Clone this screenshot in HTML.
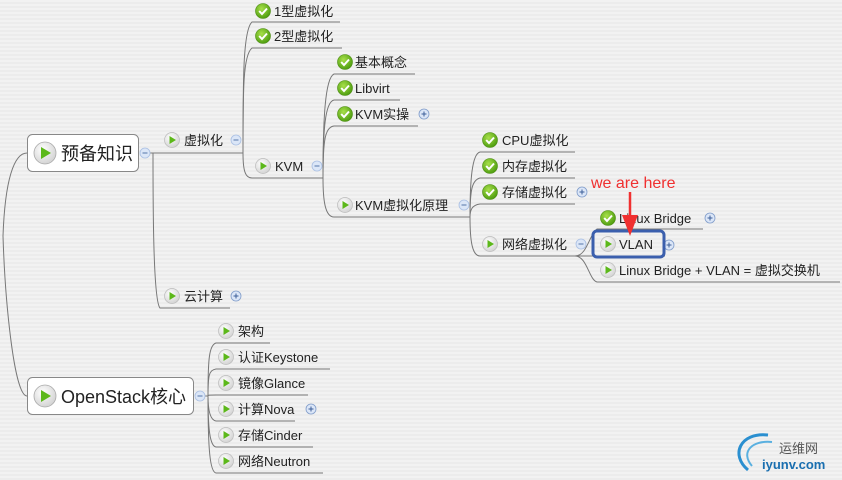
<!DOCTYPE html>
<html><head><meta charset="utf-8"><style>
html,body{margin:0;padding:0;width:842px;height:480px;overflow:hidden;background:#efefef;}
svg{display:block}
text{font-family:"Liberation Sans","Noto Sans CJK SC",sans-serif;fill:#222;}
</style></head><body>
<svg width="842" height="480" viewBox="0 0 842 480" xmlns="http://www.w3.org/2000/svg">
<defs>
<pattern id="st" width="4" height="4" patternUnits="userSpaceOnUse"><rect width="4" height="2" fill="#f2f2f2"/><rect y="2" width="4" height="2" fill="#ececec"/></pattern>
<radialGradient id="gc" cx="40%" cy="35%" r="65%"><stop offset="0" stop-color="#a8e04a"/><stop offset="1" stop-color="#4f9e10"/></radialGradient>
<radialGradient id="gp" cx="40%" cy="35%" r="65%"><stop offset="0" stop-color="#ffffff"/><stop offset="1" stop-color="#d4d4d4"/></radialGradient>
<g id="chk"><circle r="7.5" fill="url(#gc)" stroke="#4a8a10" stroke-width="0.6"/><path d="M-3.8,0 L-1,3 L4,-2.5" fill="none" stroke="#fff" stroke-width="2"/></g>
<g id="ply"><circle r="7.5" fill="url(#gp)" stroke="#bbb" stroke-width="0.7"/><path d="M-2.5,-4 L4,0 L-2.5,4Z" fill="#5cb81a"/></g>
<g id="bply"><circle r="11" fill="url(#gp)" stroke="#aaa" stroke-width="0.8"/><path d="M-4,-6 L6,0 L-4,6Z" fill="#5cb81a"/></g>
<g id="mn"><circle r="5" fill="#dbe6f7" stroke="#a9bfe3" stroke-width="0.8"/><path d="M-2.5,0H2.5" stroke="#5577aa" stroke-width="1"/></g>
<g id="pl"><circle r="5" fill="#dbe6f7" stroke="#7f9bc9" stroke-width="0.8"/><path d="M-2.5,0H2.5M0,-2.5V2.5" stroke="#3d5f99" stroke-width="1"/></g>
</defs>
<rect width="842" height="480" fill="url(#st)"/>
<g fill="none" stroke="#777" stroke-width="1">
<!-- root -->
<path d="M3,236 C5,180 14,153 27,153"/>
<path d="M3,236 C5,300 14,396 27,396"/>
<!-- 预备知识 -->
<path d="M150,153 H243"/>
<path d="M153,153 C153,200 153,300 160,308 H230"/>
<!-- 虚拟化 branch -->
<path d="M243,153 C243,80 243,30 252,22 H340"/>
<path d="M243,153 C243,90 243,55 252,48 H342"/>
<path d="M243,153 C243,170 245,178 252,178 H323"/>
<!-- KVM branch -->
<path d="M323,178 C323,120 325,78 334,74 H415"/>
<path d="M323,178 C323,130 325,102 334,100 H400"/>
<path d="M323,178 C323,140 325,127 334,126 H418"/>
<path d="M323,178 C323,200 325,217 334,217 H470"/>
<!-- 原理 branch -->
<path d="M470,217 C470,180 472,154 480,152 H575"/>
<path d="M470,217 C470,190 472,180 480,178 H575"/>
<path d="M470,217 C470,210 472,205 480,204 H575"/>
<path d="M470,217 C470,240 472,256 480,256 H575"/>
<!-- 网络 branch -->
<path d="M575,256 C587,256 589,235 597,229 H703"/>
<path d="M575,256 H665"/>
<path d="M575,256 C587,256 589,280 597,282 H840"/>
<!-- OpenStack -->
<path d="M197,396 H208"/>
<path d="M208,396 C208,360 209,345 216,343 H270"/>
<path d="M208,396 C208,375 209,370 216,369 H330"/>
<path d="M208,396 C208,395 210,395 216,395 H308"/>
<path d="M208,396 C208,410 210,420 216,421 H295"/>
<path d="M208,396 C208,430 210,446 216,447 H313"/>
<path d="M208,396 C208,450 210,472 216,473 H323"/>
</g>
<!-- root boxes -->
<rect x="27.5" y="134.5" width="111" height="37" rx="5" fill="#fff" stroke="#888"/>
<use href="#bply" x="45" y="153"/>
<text x="61" y="160" font-size="18">预备知识</text>
<use href="#mn" x="145" y="153"/>
<rect x="27.5" y="377.5" width="166" height="37" rx="5" fill="#fff" stroke="#888"/>
<use href="#bply" x="45" y="396"/>
<text x="61" y="403" font-size="18">OpenStack核心</text>
<use href="#mn" x="200" y="396"/>
<g font-size="13">
<use href="#ply" x="172" y="140"/><text x="184" y="145" font-size="13">虚拟化</text><use href="#mn" x="236" y="140"/>
<use href="#ply" x="172" y="296"/><text x="184" y="301" font-size="13">云计算</text><use href="#pl" x="236" y="296"/>
<use href="#chk" x="263" y="11"/><text x="274" y="16" font-size="13">1型虚拟化</text>
<use href="#chk" x="263" y="36"/><text x="274" y="41" font-size="13">2型虚拟化</text>
<use href="#ply" x="263" y="166"/><text x="275" y="171" font-size="13">KVM</text><use href="#mn" x="317" y="166"/>
<use href="#chk" x="345" y="62"/><text x="355" y="67" font-size="13">基本概念</text>
<use href="#chk" x="345" y="88"/><text x="355" y="93" font-size="13">Libvirt</text>
<use href="#chk" x="345" y="114"/><text x="355" y="119" font-size="13">KVM实操</text><use href="#pl" x="424" y="114"/>
<use href="#ply" x="345" y="205"/><text x="355" y="210" font-size="13">KVM虚拟化原理</text><use href="#mn" x="464" y="205"/>
<use href="#chk" x="490" y="140"/><text x="502" y="145" font-size="13">CPU虚拟化</text>
<use href="#chk" x="490" y="166"/><text x="502" y="171" font-size="13">内存虚拟化</text>
<use href="#chk" x="490" y="192"/><text x="502" y="197" font-size="13">存储虚拟化</text><use href="#pl" x="582" y="192"/>
<use href="#ply" x="490" y="244"/><text x="502" y="249" font-size="13">网络虚拟化</text><use href="#mn" x="581" y="244"/>
<use href="#chk" x="608" y="218"/><text x="619" y="223" font-size="13">Linux Bridge</text><use href="#pl" x="710" y="218"/>
<use href="#ply" x="608" y="244"/><text x="619" y="249" font-size="13">VLAN</text><use href="#pl" x="669" y="245"/>
<use href="#ply" x="608" y="270"/><text x="619" y="275" font-size="13">Linux Bridge + VLAN = 虚拟交换机</text>
<use href="#ply" x="226" y="331"/><text x="238" y="336" font-size="13">架构</text>
<use href="#ply" x="226" y="357"/><text x="238" y="362" font-size="13">认证Keystone</text>
<use href="#ply" x="226" y="383"/><text x="238" y="388" font-size="13">镜像Glance</text>
<use href="#ply" x="226" y="409"/><text x="238" y="414" font-size="13">计算Nova</text><use href="#pl" x="311" y="409"/>
<use href="#ply" x="226" y="435"/><text x="238" y="440" font-size="13">存储Cinder</text>
<use href="#ply" x="226" y="461"/><text x="238" y="466" font-size="13">网络Neutron</text>
</g>
<!-- highlight -->
<rect x="593" y="231" width="71" height="26" rx="4" fill="none" stroke="#3b5fad" stroke-width="3"/>
<text x="591" y="188" font-size="16" style="fill:#f03030">we are here</text>
<path d="M630,192 V220" stroke="#f03030" stroke-width="2.5"/>
<path d="M622,215 L638,215 L630,236Z" fill="#f03030"/>
<!-- watermark -->
<path d="M748,470 C730,455 740,432 768,435" fill="none" stroke="#2a8fd0" stroke-width="3"/>
<path d="M752,466 C740,452 752,440 772,442" fill="none" stroke="#5ab0e0" stroke-width="2"/>
<text x="779" y="453" font-size="13" style="fill:#555">运维网</text>
<text x="762" y="469" font-size="13" font-weight="bold" style="fill:#1a6fb0">iyunv.com</text>
</svg>
</body></html>
